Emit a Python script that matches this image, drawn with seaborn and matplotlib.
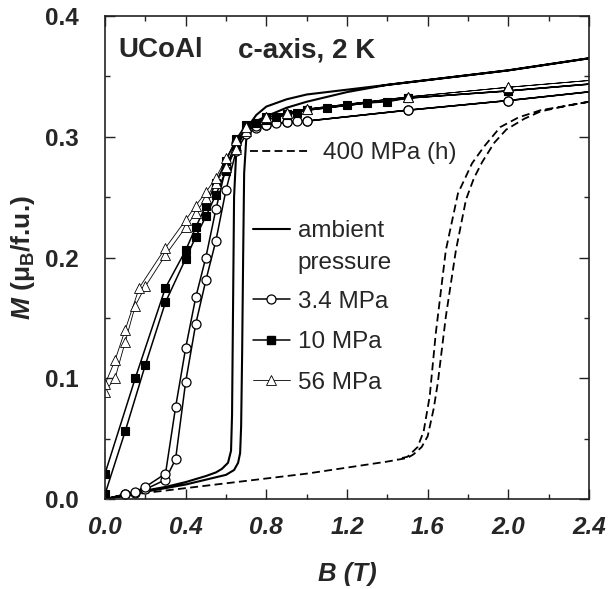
import pandas as pd
import matplotlib
matplotlib.use('Agg')
import matplotlib.pyplot as plt
from matplotlib.lines import Line2D
from matplotlib.ticker import MultipleLocator
import seaborn as sns

# --- data (B in T, M in muB/f.u.) ---
# ambient pressure: up sweep then down sweep
amb_up_b = [0, 0.1, 0.2, 0.3, 0.4, 0.5, 0.6, 0.64, 0.66, 0.67, 0.675, 0.68, 0.685, 0.69, 0.7, 0.72, 0.75,
            0.8, 0.9, 1.0, 1.2, 1.4, 1.6, 2.0, 2.4]
amb_up_m = [0, 0.003, 0.006, 0.009, 0.012, 0.016, 0.02, 0.024, 0.03, 0.038, 0.06, 0.12, 0.2, 0.27, 0.297,
            0.311, 0.318, 0.325, 0.331, 0.335, 0.339, 0.343, 0.347, 0.355, 0.365]
amb_dn_b = [2.4, 2.0, 1.6, 1.4, 1.2, 1.0, 0.9, 0.8, 0.75, 0.7, 0.67, 0.65, 0.64, 0.635, 0.63, 0.625,
            0.61, 0.58, 0.55, 0.5, 0.4, 0.3, 0.2, 0.1, 0]
amb_dn_m = [0.365, 0.355, 0.347, 0.343, 0.337, 0.329, 0.324, 0.317, 0.313, 0.307, 0.299, 0.285, 0.25,
            0.16, 0.07, 0.04, 0.03, 0.025, 0.022, 0.019, 0.014, 0.01, 0.007, 0.003, 0]

# 400 MPa (h), dashed
p400_up_b = [0, 0.2, 0.4, 0.6, 0.8, 1.0, 1.2, 1.4, 1.5, 1.53, 1.57, 1.6, 1.63, 1.65, 1.69, 1.74, 1.79,
             1.83, 1.87, 1.93, 1.99, 2.08, 2.16, 2.3, 2.5]
p400_up_m = [0, 0.005, 0.009, 0.013, 0.017, 0.021, 0.026, 0.031, 0.034, 0.037, 0.043, 0.052, 0.075,
             0.096, 0.151, 0.206, 0.248, 0.266, 0.279, 0.295, 0.306, 0.315, 0.321, 0.326, 0.332]
p400_dn_b = [2.5, 2.3, 2.16, 2.05, 1.96, 1.88, 1.82, 1.75, 1.69, 1.64, 1.61, 1.58, 1.55, 1.5, 1.45]
p400_dn_m = [0.332, 0.326, 0.322, 0.316, 0.308, 0.292, 0.278, 0.253, 0.206, 0.137, 0.085, 0.056,
             0.043, 0.035, 0.033]

# 3.4 MPa, open circles
p34_up_b = [0, 0.1, 0.15, 0.2, 0.3, 0.35, 0.4, 0.45, 0.5, 0.55, 0.6, 0.65, 0.7, 0.75, 0.8, 0.85, 0.9,
            0.95, 1.0, 1.5, 2.0, 2.5]
p34_up_m = [0, 0.004, 0.005, 0.008, 0.016, 0.033, 0.097, 0.145, 0.181, 0.214, 0.256, 0.288, 0.302,
            0.307, 0.31, 0.311, 0.312, 0.313, 0.313, 0.322, 0.33, 0.339]
p34_dn_b = [2.5, 2.0, 1.5, 1.0, 0.9, 0.8, 0.75, 0.7, 0.65, 0.6, 0.55, 0.5, 0.45, 0.4, 0.35, 0.3, 0.2,
            0.15, 0.1, 0]
p34_dn_m = [0.339, 0.33, 0.322, 0.313, 0.312, 0.31, 0.309, 0.305, 0.295, 0.275, 0.24, 0.2, 0.167, 0.125,
            0.076, 0.021, 0.01, 0.006, 0.004, 0]

# 10 MPa, filled squares
p10_up_b = [0, 0.1, 0.2, 0.3, 0.4, 0.45, 0.5, 0.55, 0.6, 0.65, 0.7, 0.75, 0.8, 0.85, 0.9, 0.95, 1.0,
            1.1, 1.2, 1.3, 1.4, 1.5, 2.0, 2.5]
p10_up_m = [0.004, 0.056, 0.111, 0.163, 0.199, 0.217, 0.234, 0.252, 0.272, 0.292, 0.305, 0.311, 0.314,
            0.316, 0.318, 0.32, 0.322, 0.324, 0.326, 0.328, 0.329, 0.332, 0.338, 0.345]
p10_dn_b = [2.5, 2.0, 1.5, 1.0, 0.9, 0.8, 0.7, 0.65, 0.6, 0.55, 0.5, 0.45, 0.4, 0.3, 0.15, 0]
p10_dn_m = [0.345, 0.338, 0.332, 0.322, 0.319, 0.316, 0.31, 0.298, 0.28, 0.262, 0.243, 0.225, 0.206,
            0.175, 0.1, 0.021]

# 56 MPa, open triangles
p56_up_b = [0, 0.05, 0.1, 0.15, 0.2, 0.3, 0.4, 0.45, 0.5, 0.55, 0.6, 0.65, 0.7, 0.8, 0.9, 1.0, 1.5,
            2.0, 2.5]
p56_up_m = [0.089, 0.1, 0.13, 0.16, 0.176, 0.202, 0.225, 0.237, 0.249, 0.262, 0.275, 0.29, 0.305, 0.316,
            0.32, 0.323, 0.333, 0.341, 0.348]
p56_dn_b = [2.5, 2.0, 1.5, 1.0, 0.9, 0.8, 0.7, 0.65, 0.6, 0.55, 0.5, 0.45, 0.4, 0.3, 0.17, 0.1, 0.05, 0]
p56_dn_m = [0.348, 0.341, 0.333, 0.323, 0.32, 0.316, 0.308, 0.297, 0.282, 0.266, 0.254, 0.243, 0.231,
            0.208, 0.175, 0.14, 0.115, 0.095]

x_ticks = [0.0, 0.4, 0.8, 1.2, 1.6, 2.0, 2.4]
y_ticks = [0.0, 0.1, 0.2, 0.3, 0.4]


def loop(b_up, m_up, b_dn, m_dn):
    return pd.DataFrame({'B': b_up + b_dn, 'M': m_up + m_dn})


sns.set_style('ticks')
plt.rcParams['font.family'] = ['Liberation Sans', 'DejaVu Sans']
plt.rcParams['mathtext.fontset'] = 'custom'
plt.rcParams['mathtext.rm'] = 'Liberation Sans:bold'
plt.rcParams['mathtext.it'] = 'Liberation Sans:bold:italic'
plt.rcParams['mathtext.bf'] = 'Liberation Sans:bold'

fig = plt.figure(figsize=(6.09, 5.89), dpi=100)
ax = fig.add_axes([0.1724, 0.1528, 0.7948, 0.82])

common = dict(ax=ax, x='B', y='M', sort=False, estimator=None, color='black')

sns.lineplot(data=loop(amb_up_b, amb_up_m, amb_dn_b, amb_dn_m), linewidth=1.5, **common)
sns.lineplot(data=loop(p400_up_b, p400_up_m, p400_dn_b, p400_dn_m), linewidth=1.3,
             linestyle=(0, (4.4, 2.4)), **common)
sns.lineplot(data=loop(p34_up_b, p34_up_m, p34_dn_b, p34_dn_m), linewidth=1.1, marker='o',
             markersize=6.5, markerfacecolor='white', markeredgecolor='black',
             markeredgewidth=0.9, **common)
sns.lineplot(data=loop(p10_up_b, p10_up_m, p10_dn_b, p10_dn_m), linewidth=1.1, marker='s',
             markersize=5.5, markerfacecolor='black', markeredgecolor='black',
             markeredgewidth=0.8, **common)
sns.lineplot(data=loop(p56_up_b, p56_up_m, p56_dn_b, p56_dn_m), linewidth=0.6, marker='^',
             markersize=6.5, markerfacecolor='white', markeredgecolor='black',
             markeredgewidth=0.6, **common)

ax.set_xlim(0, 2.4)
ax.set_ylim(0, 0.4)
ax.set_xticks(x_ticks)
ax.set_xticklabels([f'{v:.1f}' for v in x_ticks], fontweight='bold', fontstyle='italic')
ax.set_yticks(y_ticks)
ax.set_yticklabels([f'{v:.1f}' for v in y_ticks], fontweight='bold')
ax.xaxis.set_minor_locator(MultipleLocator(0.2))
ax.yaxis.set_minor_locator(MultipleLocator(0.05))
ax.tick_params(which='both', direction='in', top=True, right=True, width=1.0, color='#222222')
ax.tick_params(which='major', length=7, labelsize=17.5)
ax.tick_params(which='minor', length=3.5)
ax.tick_params(axis='x', pad=12)
ax.tick_params(axis='y', pad=19)
for s in ax.spines.values():
    s.set_linewidth(1.2)
    s.set_color('#222222')

ax.set_xlabel('B (T)', fontsize=18.5, fontweight='bold', fontstyle='italic')
ax.set_ylabel(r'$M$ (μ$_\mathrm{B}$/f.u.)', fontsize=19, fontweight='bold')
ax.xaxis.set_label_coords(0.5, -0.13)
ax.yaxis.set_label_coords(-0.14, 0.5)

ax.text(0.027, 0.915, 'UCoAl', transform=ax.transAxes, fontsize=20, fontweight='bold')
ax.text(0.275, 0.915, 'c-axis, 2 K', transform=ax.transAxes, fontsize=20, fontweight='bold')

# legends
leg_kw = dict(loc='upper left', frameon=False, fontsize=17.5, borderpad=0, borderaxespad=0)

h400 = [Line2D([], [], color='black', lw=1.3, linestyle=(0, (4.4, 2.4)))]
leg1 = ax.legend(h400, ['400 MPa (h)'], bbox_to_anchor=(0.30, 0.739),
                 handlelength=2.4, handletextpad=0.6, **leg_kw)
ax.add_artist(leg1)

h_amb = [Line2D([], [], color='black', lw=1.5), Line2D([], [], color='none')]
leg2 = ax.legend(h_amb, ['ambient', 'pressure'], bbox_to_anchor=(0.305, 0.577),
                 handlelength=1.55, handletextpad=0.3, labelspacing=0.4, **leg_kw)
ax.add_artist(leg2)

h_pts = [
    Line2D([], [], color='black', lw=1.1, marker='o', ms=6.5, mfc='white', mec='black', mew=0.9),
    Line2D([], [], color='black', lw=1.1, marker='s', ms=5.5, mfc='black', mec='black'),
    Line2D([], [], color='black', lw=0.6, marker='^', ms=6.5, mfc='white', mec='black', mew=0.6),
]
ax.legend(h_pts, ['3.4 MPa', '10 MPa', '56 MPa'], bbox_to_anchor=(0.305, 0.431),
          handlelength=1.55, handletextpad=0.3, labelspacing=0.76, **leg_kw)

fig.savefig('out.png', dpi=100)
